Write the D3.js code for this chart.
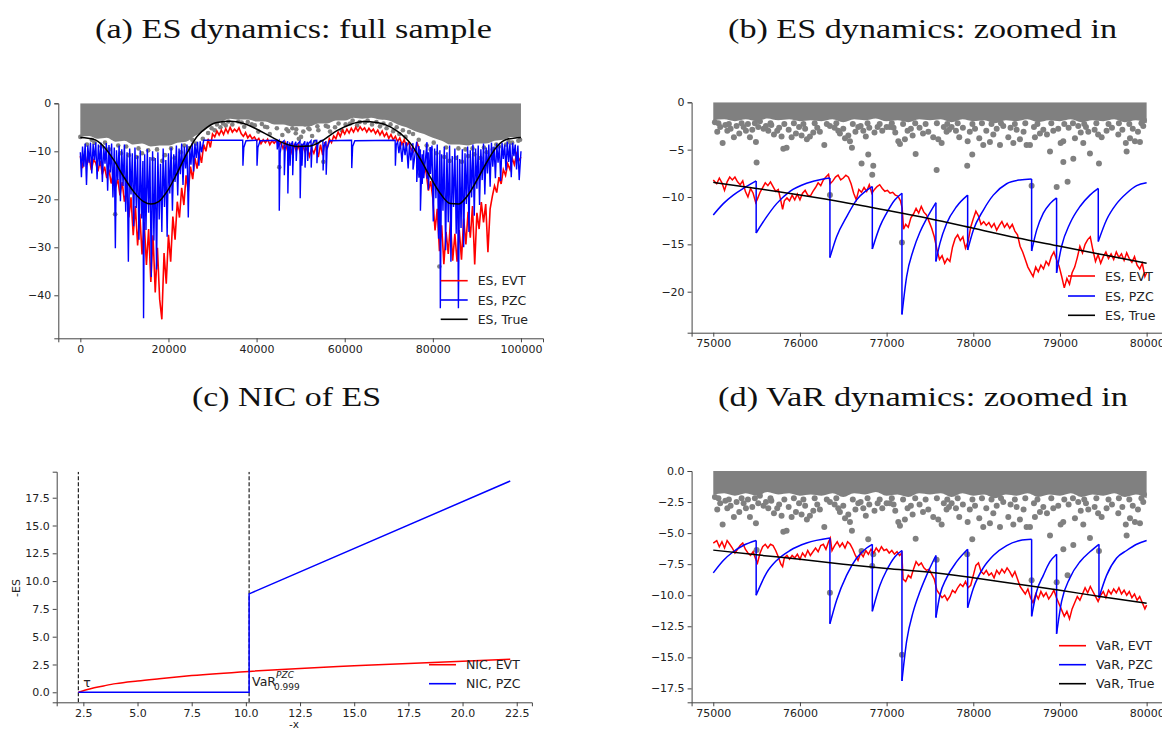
<!DOCTYPE html>
<html>
<head>
<meta charset="utf-8">
<script src="https://cdn.jsdelivr.net/npm/d3@7"></script>
<style>
body{margin:0;background:#fff;}
svg text{font-family:"DejaVu Sans",sans-serif;fill:#222;}
.axis text{font-size:11px;fill:#222;}
.axis path,.axis line{stroke:#444;}
.title{font-family:"Liberation Serif",serif !important;font-size:28px;fill:#111 !important;}
.leg{font-size:12.5px;}
</style>
</head>
<body>
<div id="fig"></div>
<script>
// ---------- (a) ES dynamics, full sample ----------
var evtStepA = 500; // ES, EVT sampled every 500 obs
var esEvtA = [
 -11.0,-13.5,-10.5,-12.8,-11.2,-13.9,-11.8,-12.4,-14.2,-12.0,
 -14.8,-13.2,-15.6,-13.8,-16.7,-14.6,-17.5,-15.8,-19.2,-16.4,
 -20.5,-18.2,-23.8,-19.6,-27.5,-21.4,-29.6,-23.0,-31.5,-24.8,
 -33.7,-26.2,-37.2,-27.5,-39.4,-30.1,-40.8,-45.0,-31.2,-37.6,
 -27.4,-33.0,-23.6,-28.4,-20.5,-23.8,-17.6,-21.2,-15.0,-18.4,
 -13.2,-15.8,-11.4,-13.6,-10.2,-12.4,-8.6,-10.0,-7.4,-9.2,
 -6.4,-7.0,-5.8,-6.6,-5.6,-6.5,-5.3,-6.2,-5.0,-6.0,
 -5.4,-5.9,-5.1,-6.3,-6.9,-6.1,-7.2,-6.6,-7.4,-7.0,
 -7.8,-7.3,-8.4,-7.6,-8.2,-7.5,-8.6,-7.8,-8.3,-7.7,
 -8.9,-8.1,-9.4,-8.2,-9.8,-8.5,-10.2,-8.7,-9.9,-8.8,
 -10.6,-8.9,-10.1,-9.2,-11.0,-9.4,-10.4,-9.0,-11.2,-8.6,
 -10.8,-8.1,-9.6,-7.4,-8.2,-6.8,-7.4,-6.0,-6.9,-5.6,
 -6.4,-5.4,-6.2,-5.2,-6.0,-5.0,-5.8,-4.9,-5.6,-5.1,
 -6.0,-5.2,-5.9,-5.4,-6.3,-5.6,-6.6,-5.8,-6.9,-6.2,
 -7.3,-6.5,-7.6,-6.9,-8.0,-7.2,-8.6,-7.6,-9.0,-8.1,
 -9.4,-10.2,-9.6,-8.4,-9.8,-13.5,-12.6,-14.6,-18.2,-16.2,
 -19.8,-26.5,-22.0,-30.8,-25.4,-33.5,-26.8,-31.4,-24.6,-32.8,
 -27.2,-33.0,-26.4,-32.6,-24.0,-29.4,-22.6,-28.0,-21.4,-33.6,
 -22.8,-26.2,-20.6,-24.8,-21.0,-31.0,-22.0,-19.4,-17.2,-18.6,
 -15.4,-16.8,-13.8,-15.0,-12.6,-13.8,-11.4,-12.8,-10.6,-12.0,
 -11.2
];
var esPzcA = [
 [0,-10.2],[250,-15.4],[500,-9.0],[800,-13.2],[1100,-8.4],[1400,-17.0],[1700,-8.8],[2000,-12.4],[2300,-8.2],[2600,-14.6],
 [2900,-8.5],[3200,-11.8],[3500,-8.1],[3800,-15.8],[4100,-8.6],[4400,-13.0],[4700,-8.2],[5000,-16.4],[5300,-9.0],[5600,-12.6],
 [5900,-8.3],[6200,-18.2],[6500,-8.7],[6800,-14.4],[7100,-8.4],[7400,-19.6],[7700,-9.2],[7950,-30.2],[8200,-9.8],[8500,-16.0],
 [8800,-8.8],[9100,-20.4],[9400,-9.6],[9700,-17.2],[10000,-8.6],[10300,-22.6],[10600,-10.2],[10900,-33.0],[11200,-9.4],[11500,-19.0],
 [11800,-10.4],[12100,-25.6],[12400,-9.2],[12700,-21.8],[13000,-11.0],[13300,-28.4],[13600,-9.8],[13900,-24.0],[14200,-12.0],[14350,-44.8],
 [14600,-10.6],[14900,-26.4],[15200,-9.6],[15500,-22.8],[15800,-11.2],[16100,-36.2],[16400,-10.0],[16700,-28.6],[17000,-11.4],[17300,-34.6],
 [17600,-10.2],[17900,-24.2],[18200,-12.6],[18500,-26.8],[18800,-9.4],[19100,-21.6],[19400,-11.8],[19700,-27.8],[20000,-10.4],[20300,-18.8],
 [20600,-9.2],[20900,-22.4],[21200,-10.6],[21500,-16.4],[21800,-8.8],[22100,-19.2],[22400,-9.4],[22700,-14.8],[23000,-8.4],[23300,-17.0],
 [23600,-9.0],[23900,-13.6],[24200,-8.6],[24500,-23.8],[24800,-9.0],[25100,-12.8],[25400,-8.2],[25700,-14.2],[26000,-8.4],[26300,-11.4],
 [26600,-8.0],[26900,-13.0],[27200,-7.9],[27500,-10.2],[28000,-7.7],
 [36850,-7.7],[36900,-13.0],[37100,-9.2],[37600,-7.8],[40050,-7.7],[40100,-13.0],[40300,-9.2],[40800,-7.8],
 [44600,-7.7],[44700,-9.6],[44900,-7.9],[45100,-7.7],[45150,-22.4],[45350,-10.4],[45700,-8.2],[46250,-7.8],[46300,-15.0],[46500,-9.4],
 [47050,-7.9],[47100,-18.8],[47300,-9.8],[47550,-8.2],[47600,-13.0],[47800,-8.8],[48150,-7.9],[48200,-15.0],[48400,-9.2],[48900,-8.0],
 [49000,-12.0],[49200,-8.6],[49850,-7.9],[49900,-19.8],[50100,-10.0],[50250,-8.4],[50300,-13.0],[50500,-8.8],[50950,-7.9],[51000,-13.4],
 [51200,-9.0],[51550,-8.0],[51600,-12.0],[51800,-8.4],[52350,-7.8],[52400,-13.4],[52600,-8.8],[53100,-7.8],[53650,-7.7],[53700,-12.5],
 [53900,-8.6],[54500,-7.8],[55050,-7.7],[55100,-14.0],[55300,-9.0],[55750,-7.9],[55800,-14.9],[56000,-9.4],[56600,-7.8],
 [61550,-7.7],[61600,-13.5],[61800,-9.0],[62300,-7.8],[71450,-7.7],[71500,-13.0],[71700,-8.6],
 [72000,-8.0],[72300,-10.4],[72600,-8.0],[73000,-12.2],[73300,-8.3],[73700,-10.8],[74000,-8.1],[74400,-13.6],[74700,-8.4],[75000,-11.9],
 [75490,-8.3],[75500,-13.8],[76340,-8.0],[76350,-16.4],[76830,-8.9],[76840,-15.5],[77170,-9.6],[77180,-22.4],[77570,-10.6],[77580,-16.8],
 [77930,-9.8],[77940,-15.6],[78670,-8.1],[78680,-15.7],[78960,-10.2],[78970,-18.0],[79440,-9.1],[79450,-14.7],[79800,-8.8],[80100,-24.6],
 [80400,-9.4],[80700,-19.8],[81000,-8.6],[81300,-28.2],[81600,-9.8],[81700,-42.7],[82000,-10.6],[82300,-22.4],[82600,-9.0],[82900,-30.6],
 [83200,-10.2],[83500,-24.8],[83800,-8.8],[84100,-33.0],[84400,-11.0],[84700,-21.6],[85000,-9.4],[85300,-27.2],[85600,-10.8],[85800,-42.7],
 [86100,-11.6],[86400,-26.0],[86700,-9.6],[87000,-30.0],[87300,-10.4],[87600,-21.0],[87900,-9.0],[88200,-26.8],[88500,-9.8],[88800,-19.6],
 [89100,-8.6],[89400,-23.4],[89700,-9.4],[90000,-17.8],[90300,-8.8],[90600,-21.2],[90900,-9.6],[91200,-16.0],[91500,-8.4],[91800,-19.0],
 [92100,-9.2],[92400,-14.6],[92700,-8.6],[93000,-17.4],[93300,-8.2],[93600,-13.2],[93900,-9.0],[94200,-15.6],[94500,-8.4],[94800,-12.4],
 [95100,-8.8],[95400,-16.2],[95700,-8.2],[96000,-11.6],[96300,-8.6],[96600,-14.0],[96900,-8.0],[97200,-12.2],[97500,-8.4],[97800,-15.4],
 [98100,-8.2],[98400,-11.0],[98700,-8.6],[99000,-13.8],[99300,-8.8],[99600,-16.0],[100000,-10.0]
];
var esTrueA = [
 [0,-7.1],[3026,-7.5],[5295,-9.0],[7564,-11.8],[9833,-15.3],[12102,-18.4],[14372,-20.5],[16036,-21.0],[17775,-20.5],[19666,-18.4],
 [21936,-14.6],[24205,-10.4],[26474,-6.9],[28743,-5.0],[31012,-4.0],[34038,-3.75],[37064,-4.2],[40090,-5.4],[43115,-6.9],[46141,-8.3],
 [49166,-9.0],[52192,-8.9],[55217,-7.6],[58243,-5.7],[61268,-4.4],[64294,-3.8],[67320,-4.0],[70345,-4.9],[72614,-6.25],[74884,-8.3],
 [77153,-11.6],[79422,-15.4],[81691,-18.8],[83960,-20.9],[85851,-21.0],[87742,-19.4],[90012,-16.0],[92281,-12.2],[94550,-9.0],[96819,-7.5],
 [100000,-7.1]
];
// lower edge of the dense cloud of returns
var bandA = [
 [0,-7.0],[2000,-6.8],[4000,-7.4],[6000,-7.2],[8000,-8.0],[10000,-7.8],[12000,-8.6],[14000,-8.4],[16000,-9.0],[18000,-8.8],
 [20000,-8.8],[22000,-8.2],[24000,-8.0],[26000,-6.8],[28000,-5.8],[30000,-4.4],[32000,-3.8],[34000,-3.2],[36000,-3.4],[38000,-3.4],
 [40000,-3.8],[42000,-3.8],[44000,-4.4],[46000,-4.4],[48000,-4.8],[50000,-4.8],[52000,-4.8],[54000,-4.2],[56000,-4.2],[58000,-3.6],
 [60000,-3.6],[62000,-3.0],[64000,-3.2],[66000,-3.0],[68000,-3.4],[70000,-3.6],[72000,-4.4],[74000,-5.0],[76000,-5.8],[78000,-6.4],
 [80000,-7.2],[82000,-7.8],[84000,-8.6],[86000,-8.6],[88000,-8.8],[90000,-8.4],[92000,-8.4],[94000,-7.8],[96000,-7.6],[98000,-7.0],
 [100000,-7.2]
];
var retsA = [
 [0,-7.0],[1500,-8.6],[3200,-8.2],[4800,-9.0],[6500,-9.6],[7900,-23.1],[9200,-10.4],[11000,-10.8],[12800,-11.2],[14000,-10.4],
 [16500,-11.6],[18600,-12.0],[19200,-10.8],[21400,-11.4],[22800,-10.2],[24600,-9.4],[26200,-8.4],[27800,-7.4],[29000,-6.2],
 [30500,-5.6],[31800,-5.0],[33000,-4.6],[34500,-4.4],[35860,-3.8],[37200,-4.9],[38900,-4.4],[40400,-5.9],[41920,-4.9],[43000,-6.4],
 [43800,-3.8],[45150,-13.3],[45850,-6.6],[46800,-5.4],[48120,-5.2],[48890,-6.25],[49600,-7.4],[50090,-7.0],[51000,-4.4],[51750,-5.2],
 [52600,-6.8],[53270,-8.0],[54020,-5.6],[55150,-12.2],[55700,-4.7],[56670,-5.9],[57800,-5.0],[59330,-5.6],[61210,-4.2],[62800,-4.6],
 [64600,-4.0],[66200,-4.4],[68000,-4.8],[69500,-5.2],[71000,-5.8],[72400,-6.4],[73800,-7.0],[75500,-6.4],[76800,-7.6],[77180,-14.8],
 [78600,-8.8],[79500,-9.6],[80800,-10.4],[81480,-34.0],[82600,-11.2],[83800,-12.0],[85200,-11.4],[86600,-12.2],[88000,-11.0],[89400,-10.6],
 [90800,-11.4],[92200,-10.2],[93600,-9.6],[95000,-9.0],[96600,-8.6],[98000,-8.2],[99400,-7.8],
 [29800,-5.2],[31000,-4.4],[32400,-4.2],[33600,-3.8],[36600,-4.0],[38000,-3.9],[39600,-4.6],[41200,-4.3],[42400,-5.0],[44600,-5.2],
 [47200,-5.8],[49000,-5.4],[50600,-5.9],[52000,-5.4],[53800,-4.8],[56200,-4.9],[58600,-4.2],[60200,-4.4],[61800,-3.6],[63400,-3.9],
 [65200,-3.6],[67200,-3.9],[68800,-4.2],[70400,-4.4],[71800,-5.0],[73200,-5.6],[74600,-6.0],[2600,-7.6],[5600,-8.2],[8600,-8.8],
 [10400,-9.0],[13200,-9.4],[15400,-9.8],[17400,-9.6],[20600,-9.4],[23600,-8.8],[25400,-7.6],[80200,-8.2],[83000,-9.2],[85800,-9.4],
 [87400,-9.6],[89000,-9.4],[91600,-9.2],[94400,-8.6],[97200,-8.0],[99800,-7.6]
];
var xTicksA = [0,20000,40000,60000,80000,100000];
var yTicksA = [0,-10,-20,-30,-40];

// ---------- (b),(d) zoomed window 75000-80000 ----------
var esEvtB = [
 [75000,-8.2],[75040,-8.6],[75070,-8.0],[75100,-8.5],[75130,-9.3],[75160,-8.4],[75190,-7.9],[75220,-8.2],[75250,-7.9],[75280,-8.4],
 [75310,-8.7],[75340,-8.3],[75370,-9.4],[75400,-10.0],[75430,-9.1],[75460,-9.6],[75490,-10.6],[75510,-10.2],[75540,-9.5],[75570,-9.0],
 [75600,-8.5],[75630,-8.8],[75660,-8.4],[75690,-8.9],[75720,-9.4],[75750,-9.2],[75780,-10.4],[75800,-11.3],[75820,-10.4],[75850,-10.1],
 [75880,-10.4],[75910,-9.8],[75940,-10.3],[75970,-9.7],[76000,-10.3],[76030,-9.6],[76060,-9.3],[76090,-9.8],[76120,-9.9],[76150,-9.4],
 [76180,-9.0],[76210,-8.5],[76240,-8.8],[76270,-8.2],[76300,-7.9],[76330,-7.6],[76350,-8.6],[76380,-8.3],[76410,-7.9],[76440,-7.7],
 [76470,-8.2],[76500,-8.0],[76530,-7.7],[76560,-7.9],[76590,-8.6],[76620,-9.6],[76650,-10.3],[76680,-9.2],[76710,-9.5],[76740,-9.0],
 [76770,-9.4],[76800,-8.7],[76830,-9.6],[76860,-9.2],[76890,-8.9],[76920,-8.7],[76950,-9.1],[76980,-9.4],[77010,-9.3],[77040,-9.6],
 [77070,-9.5],[77100,-9.8],[77130,-9.9],[77160,-10.4],[77180,-11.2],[77195,-13.4],[77220,-12.9],[77250,-13.2],[77280,-12.2],[77310,-11.8],
 [77340,-11.2],[77370,-11.7],[77400,-11.0],[77430,-11.6],[77460,-11.9],[77490,-12.6],[77520,-13.3],[77550,-14.2],[77580,-15.5],[77610,-16.6],
 [77640,-16.2],[77670,-17.0],[77700,-16.5],[77730,-16.8],[77760,-15.3],[77790,-14.4],[77820,-14.0],[77850,-14.6],[77880,-14.2],[77910,-15.4],
 [77940,-14.7],[77970,-13.2],[78000,-12.3],[78030,-11.5],[78060,-12.0],[78090,-12.9],[78120,-12.6],[78150,-13.0],[78180,-12.7],[78210,-13.2],
 [78240,-12.8],[78270,-13.5],[78300,-13.0],[78330,-12.6],[78360,-13.2],[78390,-12.8],[78420,-13.3],[78450,-12.9],[78480,-13.6],[78510,-14.0],
 [78540,-15.2],[78570,-15.8],[78600,-16.6],[78630,-17.4],[78660,-17.9],[78690,-18.4],[78720,-17.4],[78750,-17.9],[78780,-17.2],[78810,-17.6],
 [78840,-16.8],[78870,-17.2],[78900,-16.3],[78930,-15.8],[78960,-16.6],[78990,-17.3],[79020,-18.4],[79050,-19.6],[79080,-18.6],[79110,-19.2],
 [79140,-18.0],[79170,-17.4],[79200,-16.4],[79230,-15.2],[79260,-15.9],[79290,-15.0],[79320,-14.5],[79350,-14.2],[79380,-15.6],[79410,-16.8],
 [79440,-16.1],[79470,-17.0],[79500,-16.3],[79530,-15.8],[79560,-16.5],[79590,-16.0],[79620,-16.6],[79650,-15.8],[79680,-16.4],[79710,-16.0],
 [79740,-16.7],[79770,-15.9],[79800,-16.5],[79830,-16.9],[79860,-16.3],[79890,-17.2],[79920,-17.6],[79950,-17.0],[79980,-18.4],[80000,-18.0]
];
// PZC: one array per stretch between two jumps
var esPzcB = [
 [[75000,-11.9],[75116,-10.7],[75231,-9.8],[75346,-9.1],[75495,-8.3]],
 [[75495,-13.8],[75615,-12.1],[75731,-10.7],[75885,-9.4],[76077,-8.55],[76270,-8.1],[76346,-8.0]],
 [[76346,-16.4],[76423,-14.2],[76538,-12.1],[76654,-10.3],[76769,-9.3],[76835,-8.9]],
 [[76835,-15.5],[76923,-13.1],[77000,-11.7],[77096,-10.3],[77177,-9.6]],
 [[77177,-22.4],[77231,-18.4],[77308,-15.6],[77385,-13.7],[77461,-12.3],[77569,-10.6]],
 [[77569,-16.8],[77615,-14.9],[77692,-12.8],[77808,-11.0],[77935,-9.8]],
 [[77935,-15.6],[78000,-13.5],[78115,-11.4],[78231,-9.8],[78385,-8.6],[78538,-8.2],[78673,-8.1]],
 [[78673,-15.7],[78731,-13.5],[78808,-11.7],[78885,-10.7],[78961,-10.1]],
 [[78961,-18.0],[79019,-15.2],[79115,-12.8],[79231,-11.0],[79346,-9.8],[79442,-9.1]],
 [[79442,-14.7],[79538,-12.4],[79654,-10.7],[79769,-9.6],[79885,-8.8],[80000,-8.5]]
];
var esTrueB = [[75000,-8.45],[75500,-9.1],[76000,-9.8],[76500,-10.55],[77000,-11.4],[77500,-12.3],[78000,-13.3],[78500,-14.3],[79000,-15.2],[79500,-16.1],[80000,-17.0]];

var varEvtD = [
 [75000,-5.8],[75040,-5.6],[75070,-6.1],[75100,-5.7],[75130,-6.2],[75160,-5.6],[75190,-5.9],[75220,-6.2],[75250,-6.6],[75280,-6.3],
 [75310,-6.0],[75340,-5.8],[75370,-6.3],[75400,-6.6],[75430,-6.8],[75460,-6.5],[75490,-7.1],[75510,-7.4],[75540,-6.6],[75570,-6.1],
 [75600,-5.9],[75630,-6.2],[75660,-5.9],[75690,-6.0],[75720,-6.4],[75750,-6.9],[75780,-7.5],[75800,-7.7],[75820,-7.0],[75850,-6.8],
 [75880,-7.1],[75910,-6.8],[75940,-7.0],[75970,-6.7],[76000,-7.1],[76030,-6.6],[76060,-6.9],[76090,-6.4],[76120,-6.8],[76150,-6.5],
 [76180,-6.2],[76210,-6.5],[76240,-6.0],[76270,-5.9],[76300,-6.3],[76330,-5.7],[76350,-5.4],[76370,-6.4],[76400,-6.0],[76430,-5.7],
 [76460,-6.1],[76490,-5.8],[76520,-6.2],[76550,-5.7],[76580,-5.9],[76610,-6.3],[76640,-6.8],[76670,-7.2],[76700,-6.6],[76730,-6.9],
 [76760,-6.4],[76790,-6.7],[76820,-6.3],[76850,-6.6],[76880,-6.2],[76910,-6.5],[76940,-6.1],[76970,-6.4],[77000,-6.3],[77030,-6.6],
 [77060,-6.4],[77090,-6.7],[77120,-6.5],[77150,-6.8],[77175,-6.6],[77190,-8.7],[77220,-8.9],[77250,-8.4],[77280,-8.6],[77310,-7.9],
 [77340,-7.3],[77370,-7.6],[77400,-7.4],[77430,-7.8],[77460,-8.0],[77490,-7.9],[77520,-8.3],[77550,-8.7],[77580,-9.6],[77610,-9.9],
 [77640,-10.2],[77670,-10.0],[77700,-10.4],[77730,-10.1],[77760,-9.6],[77790,-9.8],[77820,-9.4],[77850,-9.1],[77880,-9.3],[77910,-8.9],
 [77940,-9.4],[77970,-9.2],[78000,-8.4],[78030,-7.6],[78060,-7.4],[78090,-8.1],[78120,-8.3],[78150,-8.0],[78180,-8.4],[78210,-8.2],
 [78240,-8.6],[78270,-8.0],[78300,-8.3],[78330,-7.9],[78360,-8.2],[78390,-7.8],[78420,-8.1],[78450,-8.5],[78480,-8.1],[78510,-8.7],
 [78540,-9.3],[78570,-9.6],[78600,-9.9],[78630,-9.5],[78660,-10.2],[78690,-10.6],[78720,-9.9],[78750,-10.3],[78780,-9.7],[78810,-10.1],
 [78840,-9.8],[78870,-10.3],[78900,-10.0],[78930,-9.6],[78960,-10.2],[78990,-10.7],[79020,-11.2],[79050,-11.7],[79080,-11.3],[79110,-11.9],
 [79140,-11.1],[79170,-10.6],[79200,-10.1],[79230,-10.4],[79260,-9.9],[79290,-9.4],[79320,-9.8],[79350,-9.3],[79380,-9.7],[79410,-10.1],
 [79440,-10.5],[79470,-10.0],[79500,-9.7],[79530,-10.2],[79560,-9.6],[79590,-9.9],[79620,-9.5],[79650,-9.8],[79680,-9.4],[79710,-9.9],
 [79740,-9.6],[79770,-10.0],[79800,-9.7],[79830,-10.2],[79860,-9.9],[79890,-10.4],[79920,-10.1],[79950,-10.6],[79980,-11.1],[80000,-10.8]
];
var varPzcD = [
 [[75000,-8.2],[75116,-7.2],[75231,-6.5],[75346,-6.0],[75495,-5.6]],
 [[75495,-10.0],[75615,-8.2],[75731,-7.2],[75885,-6.4],[76077,-5.8],[76346,-5.4]],
 [[76346,-12.3],[76423,-10.4],[76538,-8.4],[76654,-7.0],[76769,-6.2],[76835,-5.9]],
 [[76835,-11.3],[76923,-9.2],[77000,-8.0],[77096,-6.9],[77177,-6.4]],
 [[77177,-16.9],[77231,-13.7],[77308,-11.3],[77385,-9.7],[77461,-8.4],[77569,-6.8]],
 [[77569,-11.8],[77615,-10.0],[77692,-8.6],[77808,-7.3],[77935,-6.3]],
 [[77935,-11.0],[78000,-9.45],[78115,-7.8],[78231,-6.8],[78385,-6.0],[78538,-5.6],[78673,-5.5]],
 [[78673,-11.7],[78731,-9.7],[78808,-8.4],[78885,-7.3],[78961,-6.7]],
 [[78961,-13.1],[79019,-10.5],[79115,-8.6],[79231,-7.3],[79346,-6.5],[79450,-5.9]],
 [[79450,-10.2],[79538,-8.4],[79654,-7.0],[79769,-6.4],[79885,-5.9],[80000,-5.6]]
];
var varTrueD = [[75000,-6.37],[75500,-6.75],[76000,-7.1],[76500,-7.5],[77000,-7.85],[77500,-8.15],[78000,-8.6],[78500,-9.1],[79000,-9.6],[79500,-10.15],[80000,-10.65]];

// returns in the window (shared by b and d)
var bandZ = [
 [75000,-1.9],[75125,-1.8],[75250,-2.0],[75375,-1.8],[75500,-2.0],[75625,-1.7],[75750,-1.9],[75875,-1.8],[76000,-2.0],[76125,-1.9],
 [76250,-2.0],[76375,-1.8],[76500,-2.1],[76625,-1.8],[76750,-1.9],[76875,-1.7],[77000,-2.0],[77125,-1.9],[77250,-2.1],[77375,-1.8],
 [77500,-1.9],[77625,-1.8],[77750,-2.1],[77875,-1.8],[78000,-2.0],[78125,-1.9],[78250,-2.2],[78375,-1.9],[78500,-2.0],[78625,-1.8],
 [78750,-2.1],[78875,-1.9],[79000,-2.0],[79125,-1.8],[79250,-2.1],[79375,-1.9],[79500,-2.0],[79625,-1.8],[79750,-2.1],[79875,-1.9],
 [80000,-2.2]
];
var retsZ = [
 [75019,-2.1],[75046,-3.1],[75108,-4.3],[75162,-3.0],[75238,-3.7],[75269,-2.5],[75327,-2.2],[75377,-3.0],[75423,-3.7],[75492,-4.2],
 [75519,-2.6],[75538,-2.0],[75608,-2.5],[75635,-3.0],[75738,-3.0],[75788,-3.6],[75808,-4.9],[75846,-4.8],[75904,-3.7],[75954,-3.3],
 [76019,-3.5],[76115,-3.6],[76154,-3.2],[76281,-4.5],[76346,-2.5],[76442,-3.0],[76461,-3.3],[76577,-4.1],[76600,-4.8],[76558,-3.5],
 [76673,-2.6],[76731,-3.0],[76896,-2.6],[77000,-2.6],[77038,-2.6],[77135,-4.1],[77154,-4.4],[77211,-3.9],[77242,-3.0],[77481,-3.1],
 [77538,-3.7],[77596,-3.9],[77635,-4.3],[77692,-3.1],[77750,-2.6],[77838,-3.7],[77935,-4.1],[78069,-3.8],[78115,-4.5],[78192,-4.2],
 [78231,-3.4],[78308,-4.5],[78346,-2.5],[78404,-3.7],[78462,-4.3],[78538,-3.9],[78615,-4.5],[78654,-4.5],[78711,-3.7],[78769,-3.3],
 [78808,-2.9],[78923,-3.0],[79008,-4.3],[79038,-4.1],[79173,-3.8],[79211,-2.5],[79269,-4.3],[79327,-3.1],[79481,-3.7],[79538,-3.0],
 [79673,-3.4],[79808,-3.8],[79865,-4.1],[79923,-4.2],[79961,-2.5],[79969,-1.9],
 [75080,-2.6],[75140,-2.4],[75200,-2.8],[75300,-3.3],[75350,-2.6],[75450,-2.9],[75580,-2.8],[75670,-2.4],[75700,-3.4],[75760,-2.7],
 [75870,-2.9],[75990,-2.6],[76060,-2.8],[76080,-3.9],[76200,-2.7],[76230,-3.1],[76400,-2.7],[76500,-2.8],[76520,-3.8],[76640,-3.1],
 [76700,-2.5],[76760,-3.6],[76800,-2.7],[76860,-3.2],[76950,-3.0],[77080,-2.7],[77100,-3.2],[77280,-2.8],[77300,-3.5],[77380,-2.7],
 [77420,-3.3],[77660,-2.6],[77720,-2.9],[77800,-3.0],[77880,-2.7],[77960,-3.1],[78020,-2.8],[78150,-3.0],[78270,-2.8],[78430,-2.7],
 [78500,-2.9],[78580,-3.1],[78700,-2.6],[78850,-3.4],[78980,-2.8],[79100,-2.7],[79240,-3.2],[79300,-2.6],[79400,-2.9],[79440,-3.4],
 [79600,-2.7],[79720,-2.9],[79760,-4.3],[79840,-2.8],[79900,-3.1],
 [75060,-2.2],[75180,-2.3],[75400,-2.3],[75480,-2.2],[75660,-2.2],[75820,-2.3],[75930,-2.2],[76040,-2.3],[76170,-2.2],[76310,-2.3],
 [76420,-2.2],[76610,-2.3],[76780,-2.2],[76920,-2.3],[77060,-2.2],[77190,-2.3],[77330,-2.2],[77450,-2.3],[77580,-2.2],[77700,-2.3],
 [77820,-2.2],[77990,-2.3],[78100,-2.2],[78210,-2.3],[78320,-2.2],[78480,-2.3],[78600,-2.2],[78740,-2.3],[78900,-2.2],[79050,-2.3],
 [79150,-2.2],[79280,-2.3],[79420,-2.2],[79560,-2.3],[79680,-2.2],[79800,-2.3],[79940,-2.2],
 [75500,-6.35],[76346,-9.8],[76711,-6.45],[76788,-5.5],[76834,-7.65],[76846,-6.7],[77177,-14.8],[77335,-5.45],[77577,-7.15],[77930,-6.7],
 [77988,-5.5],[78673,-8.8],[78885,-5.2],[78962,-8.95],[79039,-6.3],[79088,-8.4],[79154,-5.95],[79346,-5.4],[79450,-6.45],[79769,-5.2]
];
var xTicksZ = [75000,76000,77000,78000,79000,80000];
var yTicksB = [0,-5,-10,-15,-20];
var yTicksD = [0,-2.5,-5,-7.5,-10,-12.5,-15,-17.5];

// ---------- (c) news impact curves ----------
var tauC = 2.27, varPzcC = 10.15;
var nicEvtC = [[2.27,0],[2.6,0.2],[3.0,0.4],[3.5,0.6],[4.0,0.78],[5.0,1.02],[6.0,1.22],[7.5,1.5],[10.15,1.88],[12.5,2.15],[15,2.38],[17.5,2.6],[20,2.8],[22.2,2.97]];
var nicPzcC = [[2.27,0],[10.15,0],[10.15,8.85],[22.2,19.0]];
var xTicksC = [2.5,5,7.5,10,12.5,15,17.5,20,22.5];
var yTicksC = [0,2.5,5,7.5,10,12.5,15,17.5];

function drawAxes(g, x, y, xTicks, yTicks, xFmt, yFmt){
    g.append("g").attr("class","axis")
        .attr("transform","translate(0,"+y.range()[0]+")")
        .call(d3.axisBottom(x).tickValues(xTicks).tickFormat(xFmt).tickSizeOuter(0).tickSize(4).tickPadding(3));
    g.append("g").attr("class","axis")
        .attr("transform","translate("+x.range()[0]+",0)")
        .call(d3.axisLeft(y).tickValues(yTicks).tickFormat(yFmt).tickSizeOuter(0).tickSize(4).tickPadding(3));
}

function clipBox(svg, id, x, y){
    svg.append("clipPath").attr("id", id).append("rect")
        .attr("x", x.range()[0]).attr("y", y.range()[1])
        .attr("width", x.range()[1]-x.range()[0]).attr("height", y.range()[0]-y.range()[1]);
    return svg.append("g").attr("clip-path","url(#"+id+")");
}

function legend(svg, x0, rows, labels, colors){
    labels.forEach(function(l, i){
        svg.append("line").attr("x1", x0).attr("x2", x0+27)
            .attr("y1", rows[i]).attr("y2", rows[i])
            .attr("stroke", colors[i]).attr("stroke-width", 1.6);
        svg.append("text").attr("class","leg").attr("x", x0+37).attr("y", rows[i]+4.5).text(l);
    });
}

function zoomPanel(svg, id, x, y, evt, pzc, truth, lw){
    var g = clipBox(svg, id, x, y);
    var line = d3.line().x(function(d){return x(d[0]);}).y(function(d){return y(d[1]);});
    var curve = d3.line().curve(d3.curveMonotoneX).x(function(d){return x(d[0]);}).y(function(d){return y(d[1]);});
    g.append("path").datum(bandZ)
        .attr("d", d3.area().curve(d3.curveMonotoneX).x(function(d){return x(d[0]);}).y0(y(0)).y1(function(d){return y(d[1]);}))
        .attr("fill","#808080");
    g.selectAll("circle").data(retsZ).enter().append("circle")
        .attr("cx", function(d){return x(d[0]);}).attr("cy", function(d){return y(d[1]);})
        .attr("r", 3).attr("fill","#808080");
    g.append("path").datum(evt).attr("d", line)
        .attr("fill","none").attr("stroke","#ff0000").attr("stroke-width", lw);
    pzc.forEach(function(seg, i){
        if(i > 0){
            var prev = pzc[i-1][pzc[i-1].length-1];
            g.append("path").datum([prev, seg[0]]).attr("d", line)
                .attr("fill","none").attr("stroke","#0000ff").attr("stroke-width", lw);
        }
        g.append("path").datum(seg).attr("d", curve)
            .attr("fill","none").attr("stroke","#0000ff").attr("stroke-width", lw);
    });
    g.append("path").datum(truth).attr("d", curve)
        .attr("fill","none").attr("stroke","#000").attr("stroke-width", lw);
}

function init(){
    var w = 1162, h = 729;
    var svg = d3.select("#fig").append("svg").attr("width", w).attr("height", h);

    // titles
    var titles = [
        ["(a) ES dynamics: full sample", 293.5, 38, 397],
        ["(b) ES dynamics: zoomed in", 922.5, 38, 389],
        ["(c) NIC of ES", 286.5, 406, 189],
        ["(d) VaR dynamics: zoomed in", 923, 406, 410]
    ];
    titles.forEach(function(t){
        svg.append("text").attr("class","title").attr("x", t[1]).attr("y", t[2])
            .attr("text-anchor","middle").attr("textLength", t[3]).attr("lengthAdjust","spacingAndGlyphs").text(t[0]);
    });

    // ----- (a)
    var xA = d3.scaleLinear().domain([-5000,105000]).range([58.3,543]);
    var yA = d3.scaleLinear().domain([-48.96,0]).range([338.3,103.3]);
    var gA = clipBox(svg, "clipA", xA, yA);
    gA.append("path").datum(bandA)
        .attr("d", d3.area().curve(d3.curveMonotoneX).x(function(d){return xA(d[0]);}).y0(yA(0)).y1(function(d){return yA(d[1]);}))
        .attr("fill","#808080");
    gA.selectAll("circle").data(retsA).enter().append("circle")
        .attr("cx", function(d){return xA(d[0]);}).attr("cy", function(d){return yA(d[1]);})
        .attr("r", 2.3).attr("fill","#808080");
    gA.append("path").datum(esEvtA)
        .attr("d", d3.line().x(function(d,i){return xA(i*evtStepA);}).y(function(d){return yA(d);}))
        .attr("fill","none").attr("stroke","#ff0000").attr("stroke-width",1.6);
    gA.append("path").datum(esPzcA)
        .attr("d", d3.line().x(function(d){return xA(d[0]);}).y(function(d){return yA(d[1]);}))
        .attr("fill","none").attr("stroke","#0000ff").attr("stroke-width",1.4);
    gA.append("path").datum(esTrueA)
        .attr("d", d3.line().curve(d3.curveMonotoneX).x(function(d){return xA(d[0]);}).y(function(d){return yA(d[1]);}))
        .attr("fill","none").attr("stroke","#000").attr("stroke-width",1.5);
    drawAxes(svg, xA, yA, xTicksA, yTicksA, d3.format("d"), d3.format("d"));
    legend(svg, 440.7, [280.7,300,319.3], ["ES, EVT","ES, PZC","ES, True"], ["#ff0000","#0000ff","#000"]);

    // ----- (b)
    var xB = d3.scaleLinear().domain([74750,80250]).range([691.6,1168.3]);
    var yB = d3.scaleLinear().domain([-24.33,0]).range([332.7,102.3]);
    zoomPanel(svg, "clipB", xB, yB, esEvtB, esPzcB, esTrueB, 1.5);
    drawAxes(svg, xB, yB, xTicksZ, yTicksB, d3.format("d"), d3.format("d"));
    legend(svg, 1068, [276,296,315.3], ["ES, EVT","ES, PZC","ES, True"], ["#ff0000","#0000ff","#000"]);

    // ----- (c)
    var xC = d3.scaleLinear().domain([1.27,23.2]).range([56.7,531.9]);
    var yC = d3.scaleLinear().domain([-0.9,19.84]).range([702.3,471.7]);
    var gC = clipBox(svg, "clipC", xC, yC);
    var lineC = d3.line().x(function(d){return xC(d[0]);}).y(function(d){return yC(d[1]);});
    [tauC, varPzcC].forEach(function(v){
        gC.append("line").attr("x1", xC(v)).attr("x2", xC(v))
            .attr("y1", yC.range()[0]).attr("y2", yC.range()[1])
            .attr("stroke","#222").attr("stroke-width",1.2).attr("stroke-dasharray","4,2");
    });
    gC.append("path").datum(nicEvtC).attr("d", lineC.curve(d3.curveMonotoneX))
        .attr("fill","none").attr("stroke","#ff0000").attr("stroke-width",1.5);
    gC.append("path").datum(nicPzcC).attr("d", lineC.curve(d3.curveLinear))
        .attr("fill","none").attr("stroke","#0000ff").attr("stroke-width",1.5);
    drawAxes(svg, xC, yC, xTicksC, yTicksC, d3.format(".1f"), d3.format(".1f"));
    svg.append("text").attr("x", xC(tauC)+5).attr("y", yC(0)-5).style("font-size","12.5px").text("τ");
    var va = svg.append("text").attr("x", xC(varPzcC)+3).attr("y", yC(0)-6).style("font-size","12.5px");
    va.append("tspan").text("VaR");
    va.append("tspan").attr("dy",-8).style("font-size","9px").style("font-style","italic").text("PZC");
    va.append("tspan").attr("dx",-20).attr("dy",12).style("font-size","9px").text("0.999");
    svg.append("text").attr("x", 294).attr("y", 727.5).attr("text-anchor","middle").style("font-size","10.5px").text("-x");
    svg.append("text").attr("transform","translate(20,588) rotate(-90)").attr("text-anchor","middle").style("font-size","11px").text("-ES");
    legend(svg, 429, [664.7,683.7], ["NIC, EVT","NIC, PZC"], ["#ff0000","#0000ff"]);

    // ----- (d)
    var yD = d3.scaleLinear().domain([-18.62,0]).range([702.3,471]);
    zoomPanel(svg, "clipD", xB, yD, varEvtD, varPzcD, varTrueD, 1.5);
    drawAxes(svg, xB, yD, xTicksZ, yTicksD, d3.format("d"), d3.format(".1f"));
    legend(svg, 1059, [645.7,664.7,683.7], ["VaR, EVT","VaR, PZC","VaR, True"], ["#ff0000","#0000ff","#000"]);
}
window.onload = init;
</script>
</body>
</html>
